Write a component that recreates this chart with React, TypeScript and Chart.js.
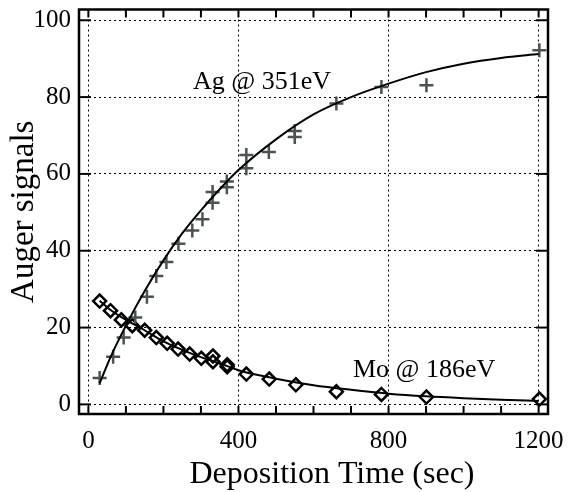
import { useEffect, useRef } from "react";
import { Chart, registerables } from "chart.js";

Chart.register(...registerables);

// Measured Ag @ 351eV signal (deposition time in sec, Auger signal)
const agTimes = [30, 66, 94, 125, 156, 181, 208, 240, 277, 304, 331, 331, 369, 369, 421, 421, 481, 550, 550, 661, 781, 901, 1202];
const agSignals = [6.9, 12.4, 17.4, 22.6, 28.0, 33.4, 37.1, 41.8, 45.3, 48.2, 52.5, 55.3, 56.5, 58.0, 61.5, 64.9, 65.7, 69.6, 71.2, 78.3, 82.6, 83.1, 92.2];

// Measured Mo @ 186eV signal
const moTimes = [30, 59, 88, 117, 150, 181, 210, 239, 270, 301, 332, 332, 370, 370, 421, 482, 553, 661, 781, 901, 1202];
const moSignals = [26.9, 24.4, 22.0, 20.5, 19.3, 17.4, 15.9, 14.4, 13.1, 12.0, 12.6, 11.1, 10.3, 9.8, 7.9, 6.6, 5.1, 3.3, 2.6, 1.9, 1.4];

// Fitted curves
const fitTimes = [30, 60, 100, 150, 200, 250, 300, 350, 400, 500, 600, 700, 800, 900, 1000, 1100, 1200];
const agFit = [5.5, 12.5, 20.5, 29.5, 37.5, 44.5, 50.5, 56.0, 61.0, 69.0, 75.5, 80.0, 83.5, 86.5, 88.7, 90.2, 91.2];
const moFit = [27.0, 24.5, 22.0, 19.3, 16.4, 14.2, 12.3, 10.7, 8.9, 6.7, 5.0, 3.8, 2.8, 2.1, 1.6, 1.2, 0.9];

// Axes
const xMajorTicks = [0, 400, 800, 1200];
const xMinorTicks = [0, 100, 200, 300, 400, 500, 600, 700, 800, 900, 1000, 1100, 1200];
const yTicks = [0, 20, 40, 60, 80, 100];
const xTitle = "Deposition Time (sec)";
const yTitle = "Auger signals";

// Labels: [text, time, signal]
const agLabel = { text: "Ag @ 351eV", t: 279, s: 82.0 };
const moLabel = { text: "Mo @ 186eV", t: 705, s: 7.1 };

const SERIF = '"Liberation Serif", "Times New Roman", serif';

const framePlugin = {
  id: "frame",
  afterDatasetsDraw(chart: any) {
    const { ctx, chartArea: a, scales } = chart;
    const x = scales.x;
    const y = scales.y;
    ctx.save();
    ctx.strokeStyle = "#000";
    ctx.lineWidth = 2;
    const line = (x1: number, y1: number, x2: number, y2: number) => {
      ctx.beginPath();
      ctx.moveTo(x1, y1);
      ctx.lineTo(x2, y2);
      ctx.stroke();
    };
    for (const v of xMinorTicks) {
      const px = x.getPixelForValue(v);
      line(px, a.bottom, px, a.bottom - 8);
      line(px, a.top, px, a.top + 8);
    }
    for (const v of yTicks) {
      const py = y.getPixelForValue(v);
      line(a.left, py, a.left + 12, py);
      line(a.right, py, a.right - 12, py);
    }
    ctx.lineWidth = 2.5;
    ctx.strokeRect(a.left, a.top, a.right - a.left, a.bottom - a.top);

    ctx.fillStyle = "#000";
    ctx.font = `26px ${SERIF}`;
    ctx.textAlign = "left";
    ctx.textBaseline = "alphabetic";
    ctx.fillText(agLabel.text, x.getPixelForValue(agLabel.t), y.getPixelForValue(agLabel.s));
    ctx.fillText(moLabel.text, x.getPixelForValue(moLabel.t), y.getPixelForValue(moLabel.s));

    ctx.font = `32px ${SERIF}`;
    ctx.textAlign = "center";
    ctx.fillText(xTitle, 332, 483);

    ctx.font = `33px ${SERIF}`;
    ctx.translate(33, (a.top + a.bottom) / 2);
    ctx.rotate(-Math.PI / 2);
    ctx.textAlign = "center";
    ctx.fillText(yTitle, 0, 0);
    ctx.restore();
  },
};

export default function App() {
  const ref = useRef<HTMLCanvasElement>(null);
  useEffect(() => {
    const canvas = ref.current;
    if (!canvas) return;
    const lineStyle = {
      showLine: true,
      pointRadius: 0,
      borderColor: "#000",
      borderWidth: 2,
      cubicInterpolationMode: "monotone" as const,
      fill: false,
      order: 0,
    };
    const chart = new Chart(canvas, {
      type: "scatter",
      data: {
        datasets: [
          { ...lineStyle, label: "Ag fit", data: fitTimes.map((t, i) => ({ x: t, y: agFit[i] })) },
          { ...lineStyle, label: "Mo fit", data: fitTimes.map((t, i) => ({ x: t, y: moFit[i] })) },
          {
            label: "Ag @ 351eV",
            data: agTimes.map((t, i) => ({ x: t, y: agSignals[i] })),
            pointStyle: "cross",
            pointRadius: 7,
            borderWidth: 2.5,
            borderColor: "#4a5350",
            backgroundColor: "#4a5350",
            order: 1,
          },
          {
            label: "Mo @ 186eV",
            data: moTimes.map((t, i) => ({ x: t, y: moSignals[i] })),
            pointStyle: "rectRot",
            pointRadius: 6.5,
            borderWidth: 2.5,
            borderColor: "#000",
            backgroundColor: "rgba(0,0,0,0)",
            order: 1,
          },
        ],
      },
      options: {
        responsive: false,
        animation: false,
        devicePixelRatio: 1,
        layout: { padding: { top: 9, right: 22, left: 0, bottom: 0 } },
        plugins: { legend: { display: false }, tooltip: { enabled: false } },
        scales: {
          x: {
            type: "linear",
            min: -25,
            max: 1225,
            afterBuildTicks: (s: any) => {
              s.ticks = xMajorTicks.map((v) => ({ value: v }));
            },
            afterFit: (s: any) => {
              s.height = 78;
              s.paddingLeft = 0;
              s.paddingRight = 0;
            },
            grid: { color: "#000", lineWidth: 1, drawTicks: false },
            border: { display: false, dash: [2, 3] },
            ticks: {
              color: "#000",
              font: { family: SERIF, size: 25 },
              padding: 12,
              maxRotation: 0,
              autoSkip: false,
              callback: (v: any) => String(v),
            },
          },
          y: {
            type: "linear",
            min: -2.5,
            max: 102.8,
            afterBuildTicks: (s: any) => {
              s.ticks = yTicks.map((v) => ({ value: v }));
            },
            afterFit: (s: any) => {
              s.width = 79;
              s.paddingTop = 0;
              s.paddingBottom = 0;
            },
            grid: { color: "#000", lineWidth: 1, drawTicks: false },
            border: { display: false, dash: [2, 3] },
            ticks: {
              color: "#000",
              font: { family: SERIF, size: 25 },
              padding: 8,
              autoSkip: false,
              callback: (v: any) => String(v),
            },
          },
        },
      },
      plugins: [framePlugin],
    });
    return () => chart.destroy();
  }, []);
  return (
    <div style={{ position: "fixed", left: 0, top: 0, width: 570, height: 492, background: "#fff" }}>
      <canvas ref={ref} width={570} height={492} style={{ width: 570, height: 492, display: "block" }} />
    </div>
  );
}
